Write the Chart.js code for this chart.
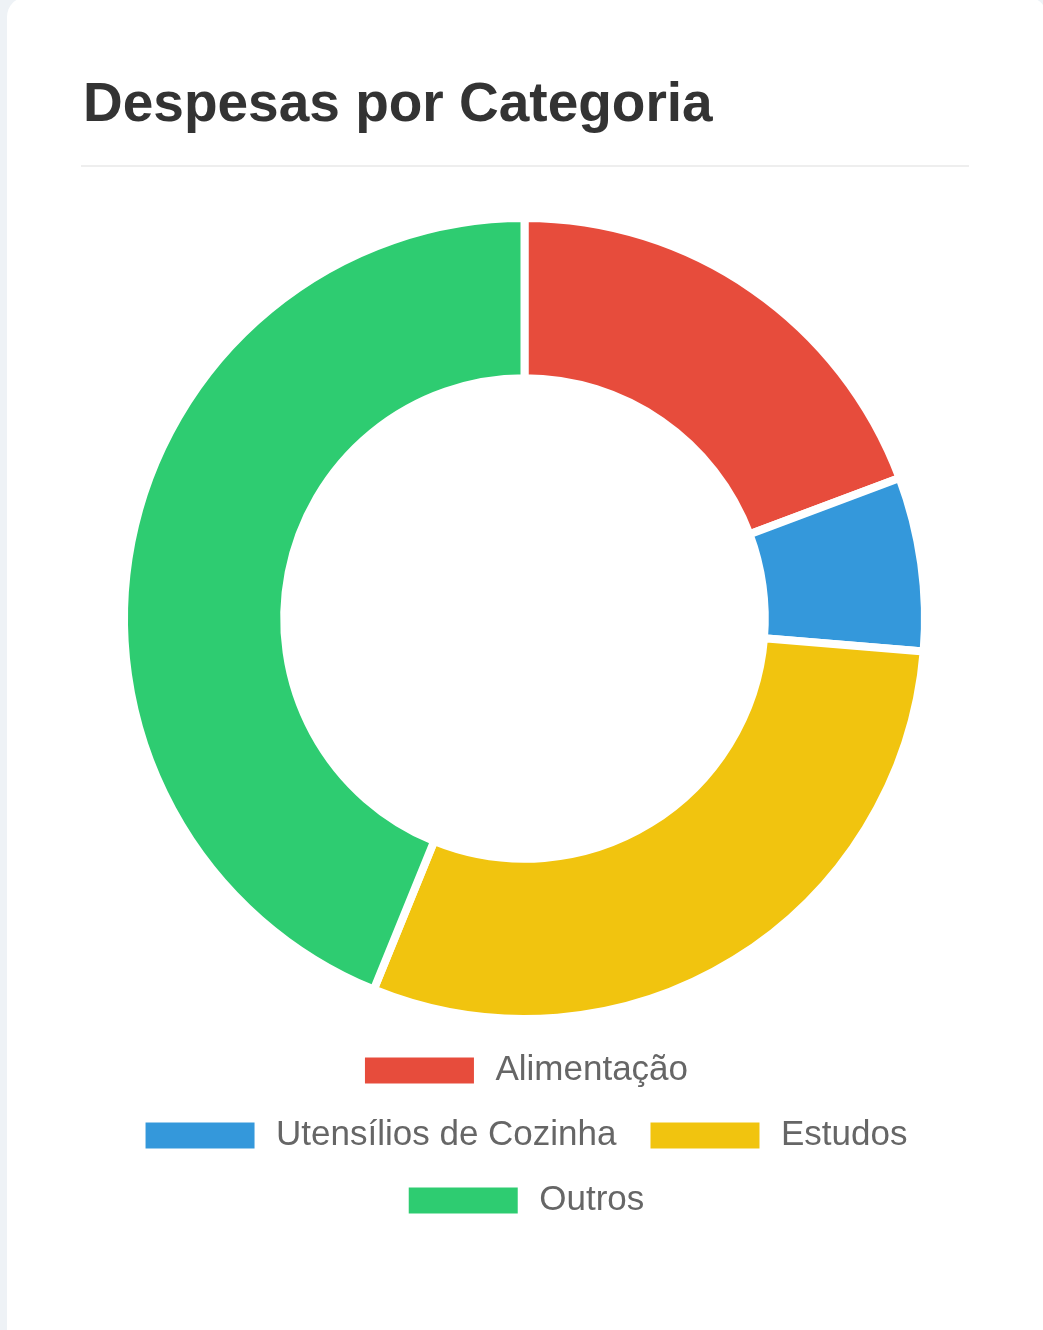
<!DOCTYPE html>
<html>
<head>
<meta charset="utf-8">
<script src="https://cdn.jsdelivr.net/npm/chart.js@4.4.1/dist/chart.umd.min.js"></script>
<style>
  html, body { margin: 0; padding: 0; width: 1043px; height: 1330px; overflow: hidden; background: #eef2f6; }
  #card { position: absolute; left: 7px; top: -3px; width: 1040px; height: 1400px; background: #ffffff; border-radius: 20px; }
  #title { position: absolute; left: 83px; top: 75px; margin: 0; font-family: 'Liberation Sans', Arial, sans-serif; font-weight: bold; font-size: 55px; line-height: 55px; color: #333333; white-space: nowrap; }
  #rule { position: absolute; left: 81px; top: 165px; width: 888px; height: 2px; background: #eeeeee; }
  #wrap { position: absolute; left: 81px; top: 214px; width: 887px; height: 1014px; }
</style>
</head>
<body>
<div id="card"></div>
<h2 id="title">Despesas por Categoria</h2>
<div id="rule"></div>
<div id="wrap"><canvas id="c"></canvas></div>
<script>
const categories = ['Alimentação', 'Utensílios de Cozinha', 'Estudos', 'Outros'];
const values = [550, 200, 850, 1250];
const colors = ['#e74c3c', '#3498db', '#f1c40f', '#2ecc71'];

Chart.defaults.font.family = "'Liberation Sans', Arial, sans-serif";
Chart.defaults.color = '#666666';

new Chart(document.getElementById('c'), {
  type: 'doughnut',
  data: {
    labels: categories,
    datasets: [{
      data: values,
      backgroundColor: colors,
      borderColor: '#ffffff',
      borderWidth: 8
    }]
  },
  options: {
    responsive: true,
    maintainAspectRatio: false,
    animation: false,
    cutout: '60%',
    layout: { padding: { left: 14, right: 14 } },
    plugins: {
      tooltip: { enabled: false },
      legend: {
        position: 'bottom',
        labels: {
          boxWidth: 117,
          boxHeight: 34,
          padding: 30,
          color: '#666666',
          font: { size: 35 }
        }
      }
    }
  }
});
</script>
</body>
</html>
